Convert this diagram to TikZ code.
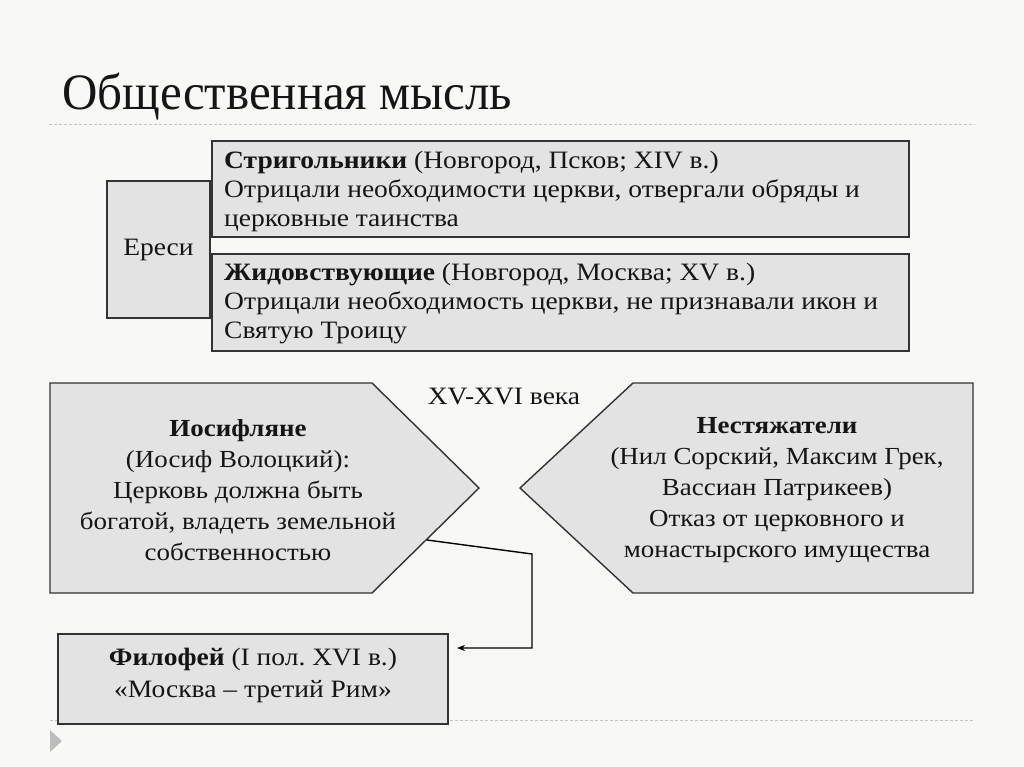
\documentclass[tikz,border=0pt]{standalone}
\usepackage{fontspec}
\setmainfont{Liberation Serif}[FakeStretch=1.1]
\newfontfamily\titlefont{Liberation Serif}[FakeStretch=0.96]
\usetikzlibrary{arrows.meta}
\frenchspacing
\definecolor{bgc}{HTML}{F8F8F7}
\definecolor{boxfill}{HTML}{E3E3E3}
\definecolor{boxline}{HTML}{333333}
\definecolor{dashc}{HTML}{C4C4C4}
\definecolor{txt}{HTML}{151515}
\definecolor{tri}{HTML}{BDBDBD}
\tikzset{
  gbox/.style={draw=boxline, line width=1.4pt, fill=boxfill, inner sep=0pt},
  btext/.style={text=txt, inner sep=0pt, font=\fontsize{25}{29}\selectfont},
  ctext/.style={text=txt, inner sep=0pt, align=center, font=\fontsize{24.5}{31}\selectfont},
  sepline/.style={dashc, line width=1pt, dash pattern=on 3pt off 2pt},
  conn/.style={black, line width=1.4pt, -{Stealth[length=8pt,width=6pt]}}
}
\begin{document}
\frenchspacing
\begin{tikzpicture}[x=1pt,y=-1pt]
\useasboundingbox (0,0) rectangle (1024,767);
\fill[bgc] (0,0) rectangle (1024,767);
% title
\node[anchor=base west, inner sep=0pt, text=txt, font=\titlefont\fontsize{51}{60}\selectfont] (title) at (62,110) {Общественная мысль};
% separators
\draw[sepline] (49,125) -- (975,125);
\draw[sepline] (50,720) -- (975,720);
\fill[tri] (50,730) -- (62,741) -- (50,752) -- cycle;
% heresies
\node[gbox, minimum width=103pt, minimum height=137pt] (eresi) at (158.5,249.5) {};
\node[btext] (eresit) at (158.5,250) {Ереси};
\node[gbox, minimum width=697pt, minimum height=96pt] (strig) at (560.5,189) {};
\node[btext, anchor=west, align=left] (strigt) at (224,191) {\textbf{Стригольники} (Новгород, Псков; XIV в.)\\Отрицали необходимости церкви, отвергали обряды и\\церковные таинства};
\node[gbox, minimum width=697pt, minimum height=97pt] (zhid) at (560.5,302.5) {};
\node[btext, anchor=west, align=left] (zhidt) at (224,304) {\textbf{Жидовствующие} (Новгород, Москва; XV в.)\\Отрицали необходимость церкви, не признавали икон и\\Святую Троицу};
% centuries
\node[btext] (vek) at (504,397) {XV-XVI века};
% pentagons
\draw[gbox] (50,383) -- (372,383) -- (479,488) -- (372,593) -- (50,593) -- cycle;
\node[ctext] (ios) at (238,490) {\textbf{Иосифляне}\\(Иосиф Волоцкий):\\Церковь должна быть\\богатой, владеть земельной\\собственностью};
\draw[gbox] (973,383) -- (633,383) -- (520,488) -- (633,593) -- (973,593) -- cycle;
\node[ctext] (nest) at (777,490) {\textbf{Нестяжатели}\\(Нил Сорский, Максим Грек,\\Вассиан Патрикеев)\\Отказ от церковного и\\монастырского имущества};
% Filofey
\node[gbox, minimum width=390pt, minimum height=90pt] (fil) at (253,679) {};
\node[ctext, font=\fontsize{25}{32}\selectfont] (filt) at (253,675) {\textbf{Филофей} (I пол. XVI в.)\\«Москва – третий Рим»};
% connector
\coordinate (jstart) at (427,540);
\coordinate (jbend1) at (532,554);
\coordinate (jbend2) at (532,648);
\coordinate (fend) at (457,648);
\draw[conn] (jstart) -- (jbend1) -- (jbend2) -- (fend);
\end{tikzpicture}
\end{document}
